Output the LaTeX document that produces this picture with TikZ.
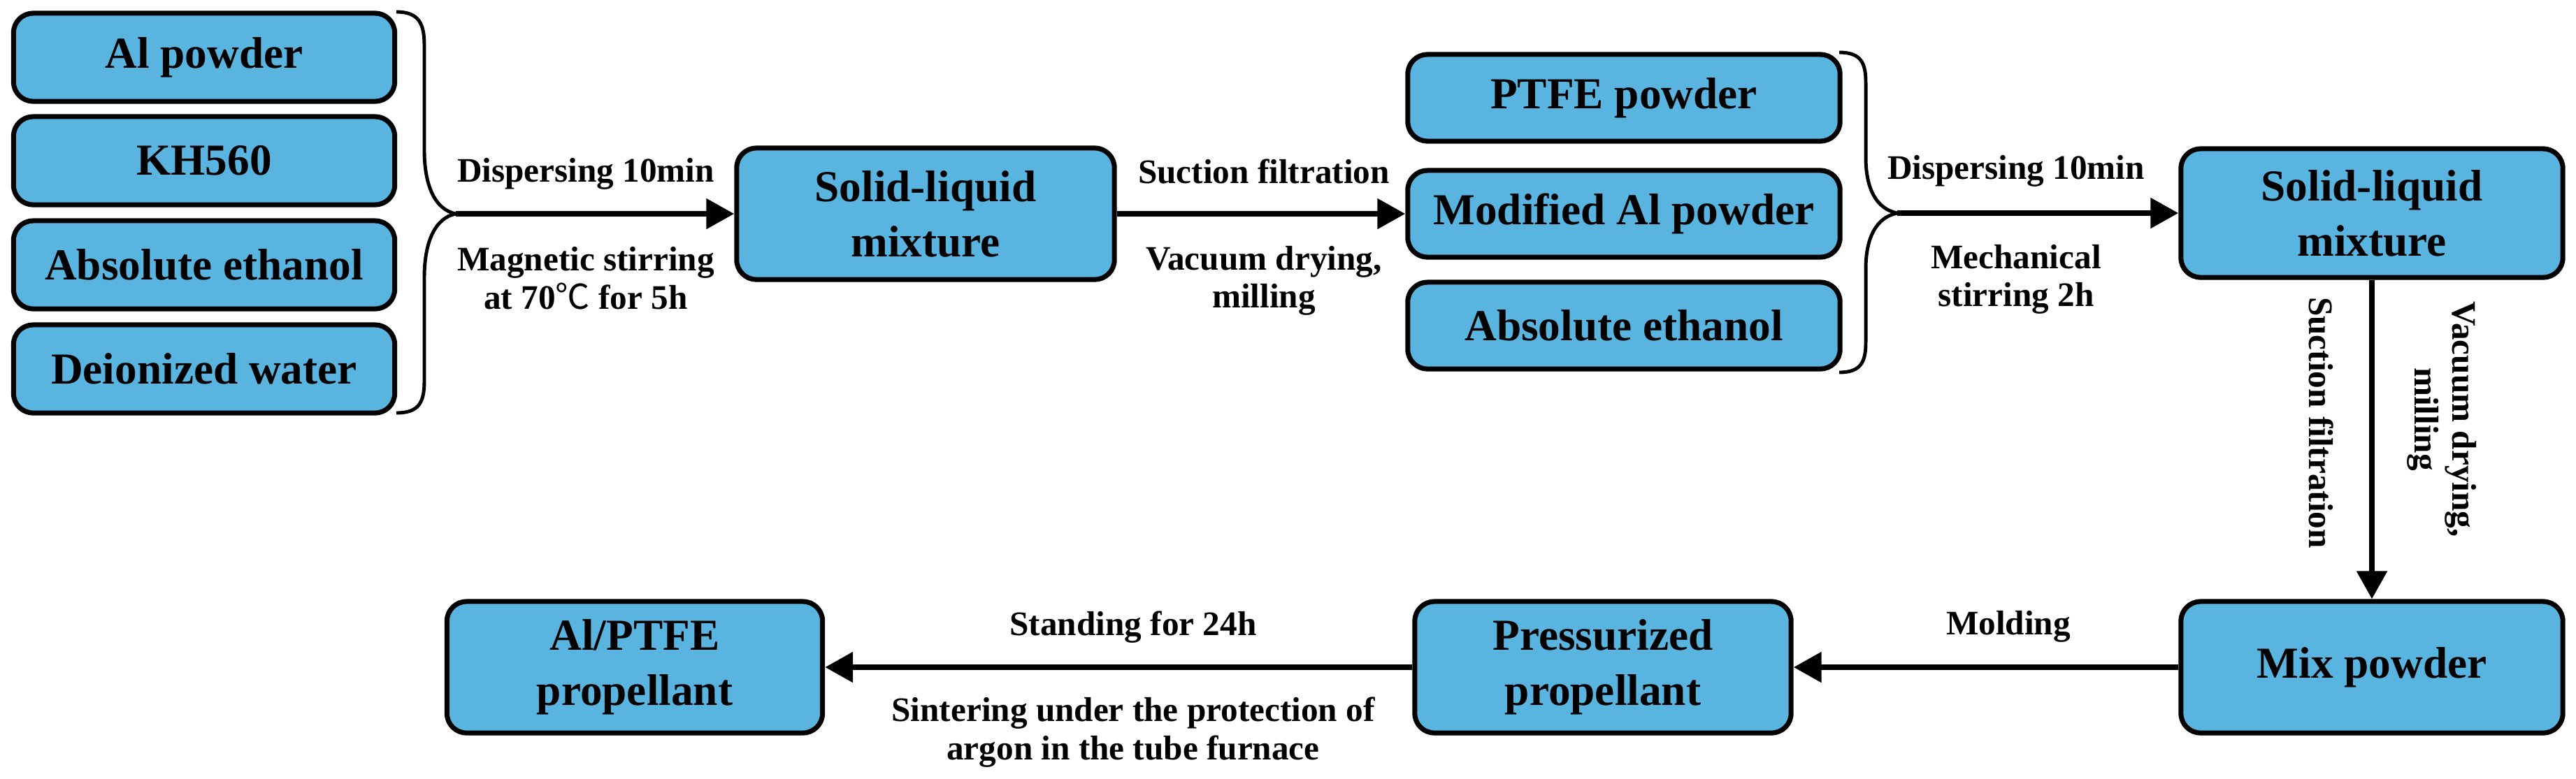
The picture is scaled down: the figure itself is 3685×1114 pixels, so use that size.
\documentclass[tikz,border=0pt]{standalone}
\usepackage{fontspec}
\setmainfont{Liberation Serif}
\newfontfamily\cjk{Noto Sans CJK SC}
\usetikzlibrary{arrows.meta}
\definecolor{boxblue}{RGB}{89,181,223}
\begin{document}
\begin{tikzpicture}[x=0.01cm,y=-0.01cm,
 box/.style={draw=black, line width=2pt, fill=boxblue, rounded corners=0.28cm, align=center,
   font=\fontsize{18}{22.5}\selectfont\bfseries, inner sep=0pt},
 lbl/.style={align=center, font=\fontsize{14}{15.5}\selectfont\bfseries, inner sep=0pt},
 arr/.style={line width=2.4pt, -{Triangle[length=0.4cm,width=0.42cm]}},
 bracepath/.style={line width=1.4pt}]
\path[use as bounding box, fill=white] (0,0) rectangle (3685,1114);

% left column
\node[box, minimum width=5.45cm, minimum height=1.26cm] (al) at (292,82) {Al powder};
\node[box, minimum width=5.45cm, minimum height=1.26cm] (kh) at (292,230) {KH560};
\node[box, minimum width=5.45cm, minimum height=1.26cm] (eth1) at (292,379) {Absolute ethanol};
\node[box, minimum width=5.45cm, minimum height=1.26cm] (dw) at (292,528) {Deionized water};

\draw[bracepath] (567,17) .. controls (600,17) and (607,35) .. (607,65) -- (607,215)
  .. controls (607,265) and (622,300) .. (652,306)
  .. controls (622,312) and (607,347) .. (607,397) -- (607,545)
  .. controls (607,575) and (600,591) .. (567,591);
\coordinate (t1) at (652,306);

\node[box, minimum width=5.4cm, minimum height=1.88cm] (sl1) at (1324,306) {Solid-liquid\\mixture};
\draw[arr] (t1) -- (t1 -| sl1.west);
\node[lbl] (l1a) at (838,249) {Dispersing 10min};
\node[lbl] (l1b) at (838,398) {Magnetic stirring\\at 70{\cjk\mdseries ℃} for 5h};

% middle column
\node[box, minimum width=6.18cm, minimum height=1.24cm] (ptfe) at (2323,140) {PTFE powder};
\node[box, minimum width=6.18cm, minimum height=1.24cm] (mod) at (2323,306) {Modified Al powder};
\node[box, minimum width=6.18cm, minimum height=1.24cm] (eth2) at (2323,466) {Absolute ethanol};
\draw[arr] (sl1) -- (mod);
\node[lbl] (l2a) at (1808,245) {Suction filtration};
\node[lbl] (l2b) at (1808,402) {Vacuum drying,\\milling};

\draw[bracepath] (2631,75) .. controls (2662,75) and (2669,90) .. (2669,118) -- (2669,225)
  .. controls (2669,270) and (2684,299) .. (2714,305)
  .. controls (2684,311) and (2669,340) .. (2669,385) -- (2669,490)
  .. controls (2669,518) and (2662,533) .. (2631,533);
\coordinate (t2) at (2714,305);

\node[box, minimum width=5.46cm, minimum height=1.84cm] (sl2) at (3393,305) {Solid-liquid\\mixture};
\draw[arr] (t2) -- (t2 -| sl2.west);
\node[lbl] (l3a) at (2884,245) {Dispersing 10min};
\node[lbl] (l3b) at (2884,400) {Mechanical\\stirring 2h};

% bottom row
\node[box, minimum width=5.46cm, minimum height=1.88cm] (mix) at (3393,955) {Mix powder};
\draw[arr] (sl2) -- (mix);
\node[lbl, rotate=-90] (l4a) at (3320,605) {Suction filtration};
\node[lbl, rotate=-90] (l4b) at (3493,600) {Vacuum drying,\\milling};

\node[box, minimum width=5.38cm, minimum height=1.88cm] (pp) at (2293,955) {Pressurized\\propellant};
\draw[arr] (mix) -- (pp);
\node[lbl] (l5) at (2873,897) {Molding};

\node[box, minimum width=5.37cm, minimum height=1.88cm] (fin) at (908,955) {Al/PTFE\\propellant};
\draw[arr] (pp) -- (fin);
\node[lbl] (l6a) at (1621,898) {Standing for 24h};
\node[lbl] (l6b) at (1621,1048) {Sintering under the protection of\\argon in the tube furnace};
\end{tikzpicture}
\end{document}
